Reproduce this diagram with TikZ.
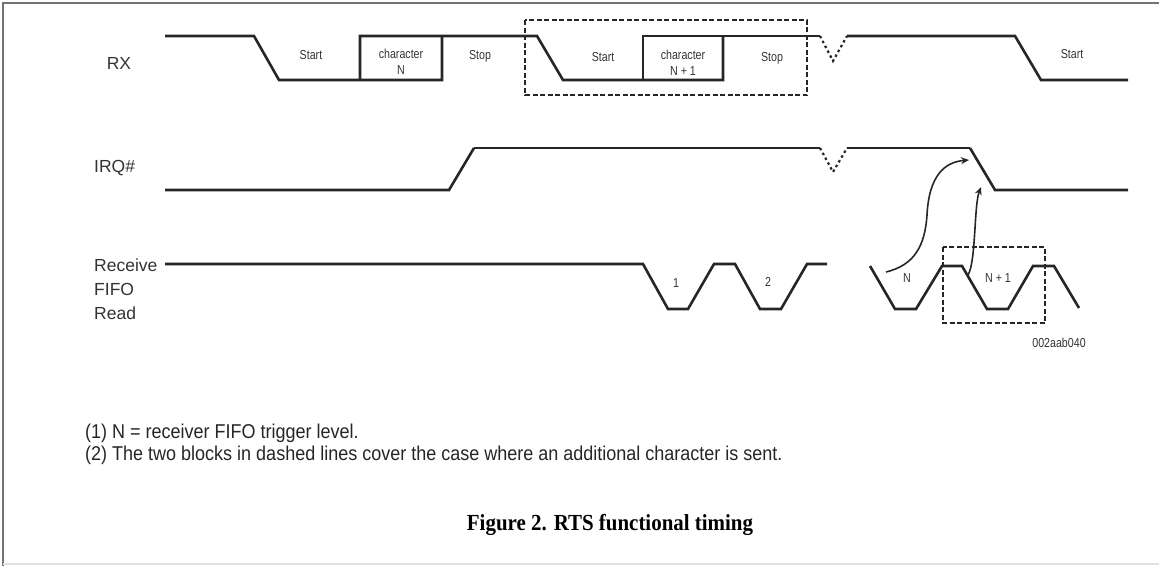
\documentclass[tikz,border=0pt]{standalone}
\usepackage{fontspec}
\setmainfont{Liberation Sans}
\newfontfamily\narrowfont[FakeStretch=0.82]{Liberation Sans}
\newfontfamily\notefont[FakeStretch=0.9]{Liberation Sans}
\newfontfamily\capfont[FakeStretch=0.91]{Liberation Serif}
\usetikzlibrary{arrows.meta,calc,positioning}

\begin{document}
\begin{tikzpicture}[
  x=1pt, y=-1pt,
  sig/.style={line width=2.6pt, draw=black!85},
  glitch/.style={line width=2.2pt, draw=black!85, dash pattern=on 2.5pt off 3pt},
  blockbox/.style={line width=2.2pt, draw=black!85, dash pattern=on 5pt off 2.5pt},
  lbl/.style={font=\fontsize{17.5}{24}\selectfont, text=black!80, inner sep=0pt},
  tag/.style={font=\narrowfont\fontsize{13}{16}\selectfont, text=black!80, align=center, inner sep=0pt},
  note/.style={font=\notefont\fontsize{20}{22}\selectfont, text=black!85, inner sep=0pt, anchor=west},
  capt/.style={font=\capfont\bfseries\fontsize{23}{25}\selectfont, inner sep=0pt},
  arr/.style={-{Stealth[length=8pt,width=7pt]}, line width=1.6pt, draw=black!85}
]
\useasboundingbox (0,0) rectangle (1159,566);
\draw[black!55, line width=1.5pt] (3,566) -- (3,3) -- (1159,3);
\draw[black!12, line width=2pt] (3,564) -- (1159,564);

% signal names
\node[lbl] (rx) at (119,63) {RX};
\node[lbl, anchor=west] (irq) at (94,168) {IRQ\#};
\node[lbl, anchor=west, align=left] (rfr) at (94,289) {Receive\\FIFO\\Read};

% RX
\draw[sig] (165,36) -- (254,36) -- (279,80) -- (442,80) -- (442,36);
\draw[sig] (360,80) -- (360,36) -- (537,36) -- (563,80) -- (723,80) -- (723,36);
\draw[sig] (643,80) -- (643,36) -- (820,36);
\draw[glitch] (820,36) -- (833,61) -- (847,36);
\draw[sig] (847,36) -- (1015,36) -- (1041,80) -- (1128,80);

\node[tag] (st1) at (311,55) {Start};
\node[tag] (ch1) at (401,62) {character\\N};
\node[tag] (sp1) at (480,56) {Stop};
\node[tag] (st2) at (603,57) {Start};
\node[tag] (ch2) at (683,63) {character\\N + 1};
\node[tag] (sp2) at (772,58) {Stop};
\node[tag] (st3) at (1072,54) {Start};

% IRQ#
\draw[sig] (165,190) -- (449,190) -- (474,148);
\draw[sig, line width=2pt] (474,148) -- (820,148);
\draw[glitch] (820,148) -- (833,172) -- (847,148);
\draw[sig, line width=2pt] (847,148) -- (970,148);
\draw[sig] (970,148) -- (995,190) -- (1128,190);

% receive FIFO read
\draw[sig] (165,264) -- (643,264) -- (668,309) -- (688,309) -- (714,264) -- (735,264)
  -- (760,309) -- (781,309) -- (807,264) -- (827,264);
\draw[sig] (870,266) -- (895,309) -- (916,309) -- (942,266) -- (962,266)
  -- (987,309) -- (1008,309) -- (1033,266) -- (1054,266) -- (1079,308);

\node[tag] (r1) at (676,283) {1};
\node[tag] (r2) at (768,282) {2};
\node[tag] (rn) at (907,278) {N};
\node[tag] (rn1) at (998,278) {N + 1};
\node[tag, font=\narrowfont\fontsize{13}{15}\selectfont] (code) at (1059,343) {002aab040};

% dashed blocks
\draw[blockbox] (525,20) rectangle (807,95);
\draw[blockbox] (943,247) rectangle (1045,323);

% interrupt arrows
\coordinate (nread) at (886,272);
\coordinate (irqfall) at (969,160);
\coordinate (n1read) at (968,275);
\coordinate (irqlow) at (981,187);
\draw[arr] (nread) .. controls (915,265) and (925,245) .. (927,215)
  .. controls (929,175) and (945,162) .. (irqfall);
\draw[arr] (n1read) .. controls (976,262) and (974,205) .. (irqlow);

% notes
\node[note] (n1) at (85,433) {(1) N = receiver FIFO trigger level.};
\node[note] (n2) at (85,455) {(2) The two blocks in dashed lines cover the case where an additional character is sent.};
\node[capt] (cap) at (610,525) {Figure 2. RTS functional timing};
\end{tikzpicture}
\end{document}
